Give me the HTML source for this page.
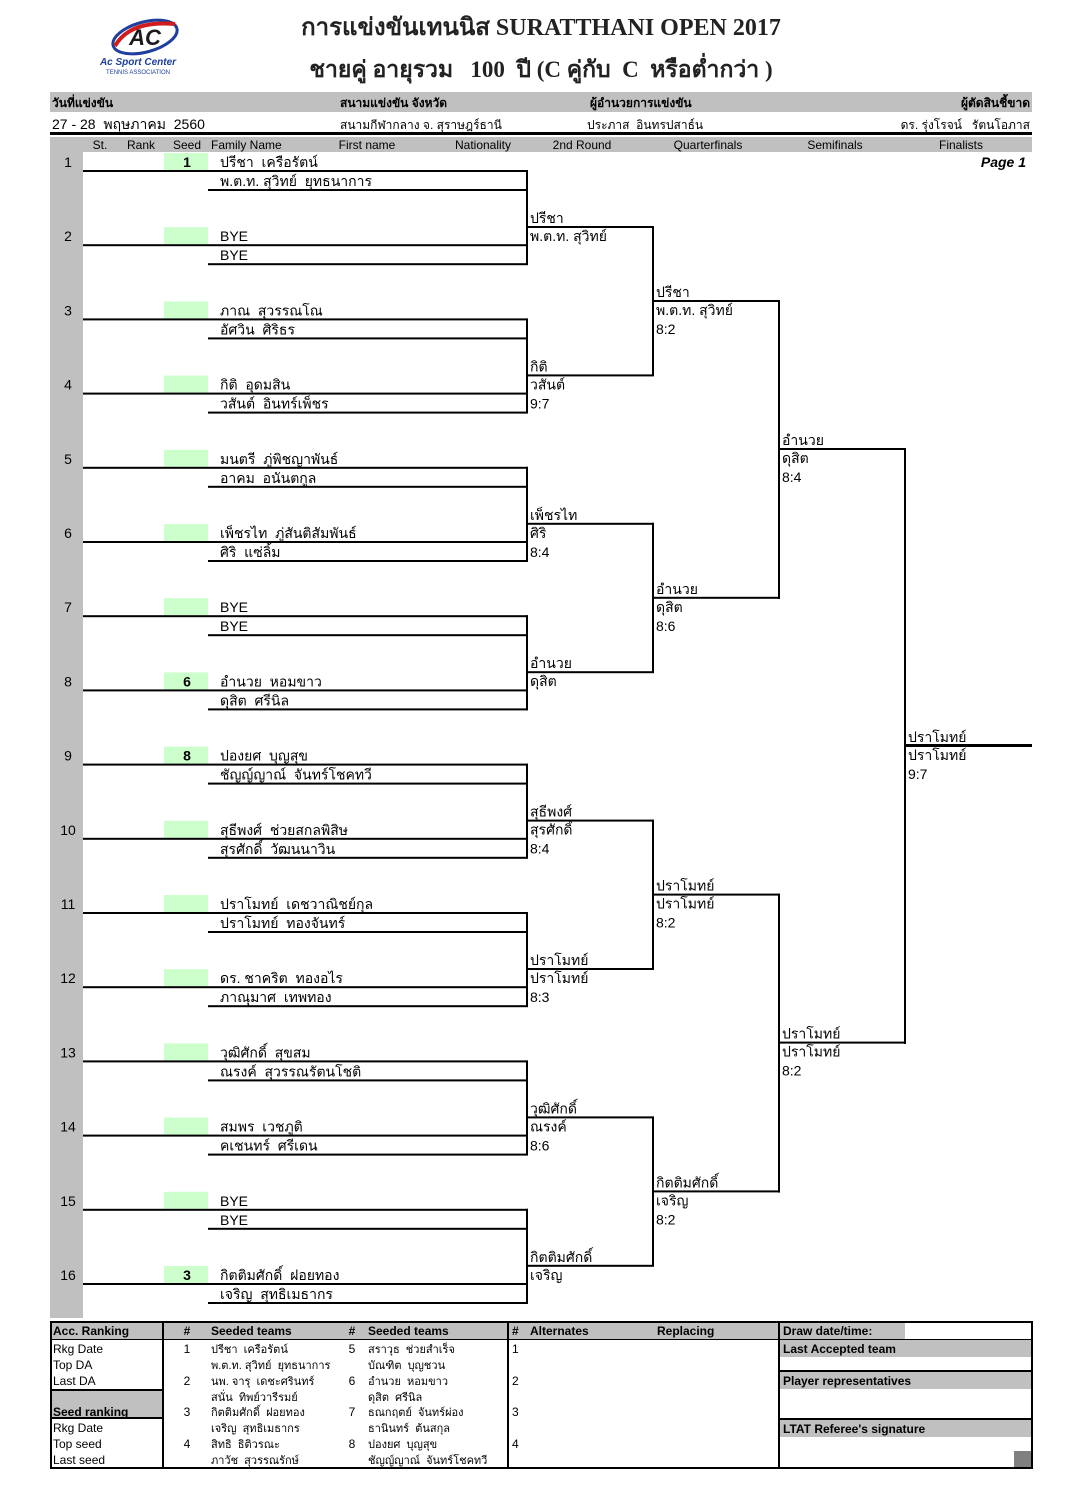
<!DOCTYPE html>
<html><head><meta charset="utf-8"><style>
html,body{margin:0;padding:0;background:#fff;}
svg{display:block;}
text{font-family:"Liberation Sans",sans-serif;fill:#000;}
.n{font-size:14px;}
.s{font-size:12px;}
.b{font-weight:bold;}
</style></head><body>
<svg width="1077" height="1506" viewBox="0 0 1077 1506" xmlns="http://www.w3.org/2000/svg">
<!-- logo -->
<ellipse cx="145" cy="37" rx="33" ry="15" fill="none" stroke="#1f3f9f" stroke-width="3" transform="rotate(-15 145 37)"/>
<path d="M115 46 Q130 20 175 24" fill="none" stroke="#d01c1c" stroke-width="4"/>
<text x="145" y="45" text-anchor="middle" style="font-size:22px;font-weight:bold;font-style:italic;fill:#1a1a1a">AC</text>
<text x="138" y="65" text-anchor="middle" style="font-size:10px;font-weight:bold;font-style:italic;fill:#1f3f9f">Ac Sport Center</text>
<text x="138" y="74" text-anchor="middle" style="font-size:6px;fill:#1f3f9f">TENNIS ASSOCIATION</text>
<!-- title -->
<text x="541" y="35" text-anchor="middle" style="font-family:'Liberation Serif',serif;font-size:24px;font-weight:bold;fill:#222">การแข่งขันเทนนิส SURATTHANI  OPEN  2017</text>
<text x="541" y="77" text-anchor="middle" style="font-family:'Liberation Serif',serif;font-size:23px;font-weight:bold;fill:#222" xml:space="preserve">ชายคู่ อายุรวม   100  ปี (C คู่กับ  C  หรือต่ำกว่า )</text>
<!-- header -->
<rect x="50" y="92" width="982" height="20" fill="#c0c0c0"/>
<text x="52" y="107" class="s b">วันที่แข่งขัน</text>
<text x="340" y="107" class="s b">สนามแข่งขัน จังหวัด</text>
<text x="590" y="107" class="s b">ผู้อำนวยการแข่งขัน</text>
<text x="1030" y="107" class="s b" text-anchor="end">ผู้ตัดสินชี้ขาด</text>
<text x="52" y="129" class="n" xml:space="preserve">27 - 28  พฤษภาคม  2560</text>
<text x="340" y="129" class="s">สนามกีฬากลาง จ. สุราษฎร์ธานี</text>
<text x="587" y="129" class="s" xml:space="preserve">ประภาส  อินทรปสาธ์น</text>
<text x="1030" y="129" class="s" text-anchor="end" xml:space="preserve">ดร. รุ่งโรจน์   รัตนโอภาส</text>
<rect x="50" y="132" width="982" height="3" fill="#000"/>
<rect x="50" y="137" width="982" height="15" fill="#c0c0c0"/>
<rect x="50" y="137" width="33" height="1181" fill="#c0c0c0"/>
<g class="s" style="font-size:12px">
<text x="100" y="149" text-anchor="middle" style="font-size:12px">St.</text>
<text x="141" y="149" text-anchor="middle" style="font-size:12px">Rank</text>
<text x="187" y="149" text-anchor="middle" style="font-size:12px">Seed</text>
<text x="211" y="149" style="font-size:12px">Family Name</text>
<text x="367" y="149" text-anchor="middle" style="font-size:12px">First name</text>
<text x="483" y="149" text-anchor="middle" style="font-size:12px">Nationality</text>
<text x="582" y="149" text-anchor="middle" style="font-size:12px">2nd Round</text>
<text x="708" y="149" text-anchor="middle" style="font-size:12px">Quarterfinals</text>
<text x="835" y="149" text-anchor="middle" style="font-size:12px">Semifinals</text>
<text x="961" y="149" text-anchor="middle" style="font-size:12px">Finalists</text>
</g>
<text x="1026" y="167" text-anchor="end" style="font-size:14px;font-weight:bold;font-style:italic">Page 1</text>

<defs>
<g id="slot">
<rect x="164" y="153" width="44" height="17" fill="#ccffcc"/>
<rect x="83" y="170" width="445" height="2" fill="#000"/>
<rect x="208" y="189" width="320" height="2" fill="#000"/>
</g>
<g id="r2"><rect x="526" y="170" width="2" height="95" fill="#000"/><rect x="526" y="226" width="128" height="2" fill="#000"/></g>
<g id="qf"><rect x="652" y="226" width="2" height="150" fill="#000"/><rect x="652" y="300" width="128" height="2" fill="#000"/></g>
<g id="sf"><rect x="778" y="300" width="2" height="299" fill="#000"/><rect x="778" y="448" width="128" height="2" fill="#000"/></g>
</defs>

<!-- slots -->
<g class="n">
<g><use href="#slot"/><text x="68" y="167" text-anchor="middle">1</text><text x="187" y="167" text-anchor="middle" class="b">1</text><text x="220" y="167" xml:space="preserve">ปรีชา  เครือรัตน์</text><text x="220" y="186" xml:space="preserve">พ.ต.ท. สุวิทย์  ยุทธนาการ</text></g>
<g transform="translate(0,74.2)"><use href="#slot"/><text x="68" y="167" text-anchor="middle">2</text><text x="220" y="167">BYE</text><text x="220" y="186">BYE</text></g>
<g transform="translate(0,148.4)"><use href="#slot"/><text x="68" y="167" text-anchor="middle">3</text><text x="220" y="167" xml:space="preserve">ภาณ  สุวรรณโณ</text><text x="220" y="186" xml:space="preserve">อัศวิน  ศิริธร</text></g>
<g transform="translate(0,222.6)"><use href="#slot"/><text x="68" y="167" text-anchor="middle">4</text><text x="220" y="167" xml:space="preserve">กิติ  อุดมสิน</text><text x="220" y="186" xml:space="preserve">วสันต์  อินทร์เพ็ชร</text></g>
<g transform="translate(0,296.8)"><use href="#slot"/><text x="68" y="167" text-anchor="middle">5</text><text x="220" y="167" xml:space="preserve">มนตรี  ภู่พิชญาพันธ์</text><text x="220" y="186" xml:space="preserve">อาคม  อนันตกูล</text></g>
<g transform="translate(0,371)"><use href="#slot"/><text x="68" y="167" text-anchor="middle">6</text><text x="220" y="167" xml:space="preserve">เพ็ชรไท  ภู่สันติสัมพันธ์</text><text x="220" y="186" xml:space="preserve">ศิริ  แซ่ลิ้ม</text></g>
<g transform="translate(0,445.2)"><use href="#slot"/><text x="68" y="167" text-anchor="middle">7</text><text x="220" y="167">BYE</text><text x="220" y="186">BYE</text></g>
<g transform="translate(0,519.4)"><use href="#slot"/><text x="68" y="167" text-anchor="middle">8</text><text x="187" y="167" text-anchor="middle" class="b">6</text><text x="220" y="167" xml:space="preserve">อำนวย  หอมขาว</text><text x="220" y="186" xml:space="preserve">ดุสิต  ศรีนิล</text></g>
<g transform="translate(0,593.6)"><use href="#slot"/><text x="68" y="167" text-anchor="middle">9</text><text x="187" y="167" text-anchor="middle" class="b">8</text><text x="220" y="167" xml:space="preserve">ปองยศ  บุญสุข</text><text x="220" y="186" xml:space="preserve">ชัญญ์ญาณ์  จันทร์โชคทวี</text></g>
<g transform="translate(0,667.8)"><use href="#slot"/><text x="68" y="167" text-anchor="middle">10</text><text x="220" y="167" xml:space="preserve">สุธีพงศ์  ช่วยสกลพิสิษ</text><text x="220" y="186" xml:space="preserve">สุรศักดิ์  วัฒนนาวิน</text></g>
<g transform="translate(0,742)"><use href="#slot"/><text x="68" y="167" text-anchor="middle">11</text><text x="220" y="167" xml:space="preserve">ปราโมทย์  เดชวาณิชย์กุล</text><text x="220" y="186" xml:space="preserve">ปราโมทย์  ทองจันทร์</text></g>
<g transform="translate(0,816.2)"><use href="#slot"/><text x="68" y="167" text-anchor="middle">12</text><text x="220" y="167" xml:space="preserve">ดร. ชาคริต  ทองอไร</text><text x="220" y="186" xml:space="preserve">ภาณุมาศ  เทพทอง</text></g>
<g transform="translate(0,890.4)"><use href="#slot"/><text x="68" y="167" text-anchor="middle">13</text><text x="220" y="167" xml:space="preserve">วุฒิศักดิ์  สุขสม</text><text x="220" y="186" xml:space="preserve">ณรงค์  สุวรรณรัตนโชติ</text></g>
<g transform="translate(0,964.6)"><use href="#slot"/><text x="68" y="167" text-anchor="middle">14</text><text x="220" y="167" xml:space="preserve">สมพร  เวชภูติ</text><text x="220" y="186" xml:space="preserve">คเชนทร์  ศรีเดน</text></g>
<g transform="translate(0,1038.8)"><use href="#slot"/><text x="68" y="167" text-anchor="middle">15</text><text x="220" y="167">BYE</text><text x="220" y="186">BYE</text></g>
<g transform="translate(0,1113)"><use href="#slot"/><text x="68" y="167" text-anchor="middle">16</text><text x="187" y="167" text-anchor="middle" class="b">3</text><text x="220" y="167" xml:space="preserve">กิตติมศักดิ์  ฝอยทอง</text><text x="220" y="186" xml:space="preserve">เจริญ  สุทธิเมธากร</text></g>

<!-- round 2 -->
<g><use href="#r2"/><text x="530" y="223">ปรีชา</text><text x="530" y="241">พ.ต.ท. สุวิทย์</text></g>
<g transform="translate(0,148.4)"><use href="#r2"/><text x="530" y="223">กิติ</text><text x="530" y="241">วสันต์</text><text x="530" y="260">9:7</text></g>
<g transform="translate(0,296.8)"><use href="#r2"/><text x="530" y="223">เพ็ชรไท</text><text x="530" y="241">ศิริ</text><text x="530" y="260">8:4</text></g>
<g transform="translate(0,445.2)"><use href="#r2"/><text x="530" y="223">อำนวย</text><text x="530" y="241">ดุสิต</text></g>
<g transform="translate(0,593.6)"><use href="#r2"/><text x="530" y="223">สุธีพงศ์</text><text x="530" y="241">สุรศักดิ์</text><text x="530" y="260">8:4</text></g>
<g transform="translate(0,742)"><use href="#r2"/><text x="530" y="223">ปราโมทย์</text><text x="530" y="241">ปราโมทย์</text><text x="530" y="260">8:3</text></g>
<g transform="translate(0,890.4)"><use href="#r2"/><text x="530" y="223">วุฒิศักดิ์</text><text x="530" y="241">ณรงค์</text><text x="530" y="260">8:6</text></g>
<g transform="translate(0,1038.8)"><use href="#r2"/><text x="530" y="223">กิตติมศักดิ์</text><text x="530" y="241">เจริญ</text></g>

<!-- QF -->
<g><use href="#qf"/><text x="656" y="297">ปรีชา</text><text x="656" y="315">พ.ต.ท. สุวิทย์</text><text x="656" y="334">8:2</text></g>
<g transform="translate(0,296.8)"><use href="#qf"/><text x="656" y="297">อำนวย</text><text x="656" y="315">ดุสิต</text><text x="656" y="334">8:6</text></g>
<g transform="translate(0,593.6)"><use href="#qf"/><text x="656" y="297">ปราโมทย์</text><text x="656" y="315">ปราโมทย์</text><text x="656" y="334">8:2</text></g>
<g transform="translate(0,890.4)"><use href="#qf"/><text x="656" y="297">กิตติมศักดิ์</text><text x="656" y="315">เจริญ</text><text x="656" y="334">8:2</text></g>

<!-- SF -->
<g><use href="#sf"/><text x="782" y="445">อำนวย</text><text x="782" y="463">ดุสิต</text><text x="782" y="482">8:4</text></g>
<g transform="translate(0,593.6)"><use href="#sf"/><text x="782" y="445">ปราโมทย์</text><text x="782" y="463">ปราโมทย์</text><text x="782" y="482">8:2</text></g>

<!-- Final -->
<rect x="904" y="448" width="2" height="596" fill="#000"/>
<rect x="904" y="744" width="128" height="3" fill="#000"/>
<text x="908" y="742">ปราโมทย์</text><text x="908" y="760">ปราโมทย์</text><text x="908" y="779">9:7</text>
</g>

<!-- bottom table -->
<rect x="50" y="1322" width="458" height="18" fill="#c0c0c0"/>
<rect x="508" y="1322" width="271" height="18" fill="#c0c0c0"/>
<rect x="779" y="1322" width="126" height="18" fill="#c0c0c0"/>
<rect x="50" y="1390" width="113" height="28" fill="#c0c0c0"/>
<rect x="779" y="1340" width="253" height="17" fill="#c0c0c0"/>
<rect x="779" y="1372" width="253" height="17" fill="#c0c0c0"/>
<rect x="779" y="1420" width="253" height="17" fill="#c0c0c0"/>
<rect x="1014" y="1451" width="18" height="17" fill="#808080"/>
<g fill="#000">
<rect x="50" y="1321" width="982" height="2"/>
<rect x="50" y="1467" width="982" height="2"/>
<rect x="50" y="1339" width="982" height="1"/>
<rect x="50" y="1389" width="113" height="2"/>
<rect x="50" y="1417" width="113" height="2"/>
<rect x="779" y="1370" width="253" height="2"/>
<rect x="779" y="1418" width="253" height="2"/>
<rect x="50" y="1321" width="2" height="148"/>
<rect x="162" y="1321" width="2" height="148"/>
<rect x="507" y="1321" width="2" height="148"/>
<rect x="778" y="1321" width="2" height="148"/>
<rect x="1031" y="1321" width="2" height="148"/>
</g>
<g style="font-size:12px">
<text x="53" y="1335" style="font-size:12px;font-weight:bold">Acc. Ranking</text>
<text x="53" y="1353" style="font-size:12px">Rkg Date</text>
<text x="53" y="1369" style="font-size:12px">Top DA</text>
<text x="53" y="1385" style="font-size:12px">Last DA</text>
<text x="53" y="1416" style="font-size:12px;font-weight:bold">Seed ranking</text>
<text x="53" y="1432" style="font-size:12px">Rkg Date</text>
<text x="53" y="1448" style="font-size:12px">Top seed</text>
<text x="53" y="1464" style="font-size:12px">Last seed</text>
<text x="187" y="1335" text-anchor="middle" style="font-size:12px;font-weight:bold">#</text>
<text x="211" y="1335" style="font-size:12px;font-weight:bold">Seeded teams</text>
<text x="352" y="1335" text-anchor="middle" style="font-size:12px;font-weight:bold">#</text>
<text x="368" y="1335" style="font-size:12px;font-weight:bold">Seeded teams</text>
<text x="512" y="1335" style="font-size:12px;font-weight:bold"># </text>
<text x="530" y="1335" style="font-size:12px;font-weight:bold">Alternates</text>
<text x="657" y="1335" style="font-size:12px;font-weight:bold">Replacing</text>
<text x="783" y="1335" style="font-size:12px;font-weight:bold">Draw date/time:</text>
<text x="783" y="1353" style="font-size:12px;font-weight:bold">Last Accepted team</text>
<text x="783" y="1385" style="font-size:12px;font-weight:bold">Player representatives</text>
<text x="783" y="1433" style="font-size:12px;font-weight:bold">LTAT Referee's signature</text>
<text x="187" y="1353" text-anchor="middle" style="font-size:12px">1</text>
<text x="187" y="1385" text-anchor="middle" style="font-size:12px">2</text>
<text x="187" y="1416" text-anchor="middle" style="font-size:12px">3</text>
<text x="187" y="1448" text-anchor="middle" style="font-size:12px">4</text>
<text x="352" y="1353" text-anchor="middle" style="font-size:12px">5</text>
<text x="352" y="1385" text-anchor="middle" style="font-size:12px">6</text>
<text x="352" y="1416" text-anchor="middle" style="font-size:12px">7</text>
<text x="352" y="1448" text-anchor="middle" style="font-size:12px">8</text>
<text x="512" y="1353" style="font-size:12px">1</text>
<text x="512" y="1385" style="font-size:12px">2</text>
<text x="512" y="1416" style="font-size:12px">3</text>
<text x="512" y="1448" style="font-size:12px">4</text>
<text x="211" y="1353" style="font-size:11px" xml:space="preserve">ปรีชา  เครือรัตน์</text>
<text x="211" y="1369" style="font-size:11px" xml:space="preserve">พ.ต.ท. สุวิทย์  ยุทธนาการ</text>
<text x="211" y="1385" style="font-size:11px" xml:space="preserve">นพ. จารุ  เดชะศรินทร์</text>
<text x="211" y="1401" style="font-size:11px" xml:space="preserve">สนั่น  ทิพย์วารีรมย์</text>
<text x="211" y="1416" style="font-size:11px" xml:space="preserve">กิตติมศักดิ์  ฝอยทอง</text>
<text x="211" y="1432" style="font-size:11px" xml:space="preserve">เจริญ  สุทธิเมธากร</text>
<text x="211" y="1448" style="font-size:11px" xml:space="preserve">สิทธิ  ธิติวรณะ</text>
<text x="211" y="1464" style="font-size:11px" xml:space="preserve">ภาวัช  สุวรรณรักษ์</text>
<text x="368" y="1353" style="font-size:11px" xml:space="preserve">สราวุธ  ช่วยสำเร็จ</text>
<text x="368" y="1369" style="font-size:11px" xml:space="preserve">บัณฑิต  บุญชวน</text>
<text x="368" y="1385" style="font-size:11px" xml:space="preserve">อำนวย  หอมขาว</text>
<text x="368" y="1401" style="font-size:11px" xml:space="preserve">ดุสิต  ศรีนิล</text>
<text x="368" y="1416" style="font-size:11px" xml:space="preserve">ธณกฤตย์  จันทร์ผ่อง</text>
<text x="368" y="1432" style="font-size:11px" xml:space="preserve">ธานินทร์  ต้นสกุล</text>
<text x="368" y="1448" style="font-size:11px" xml:space="preserve">ปองยศ  บุญสุข</text>
<text x="368" y="1464" style="font-size:11px" xml:space="preserve">ชัญญ์ญาณ์  จันทร์โชคทวี</text>
</g>
</svg>
</body></html>
